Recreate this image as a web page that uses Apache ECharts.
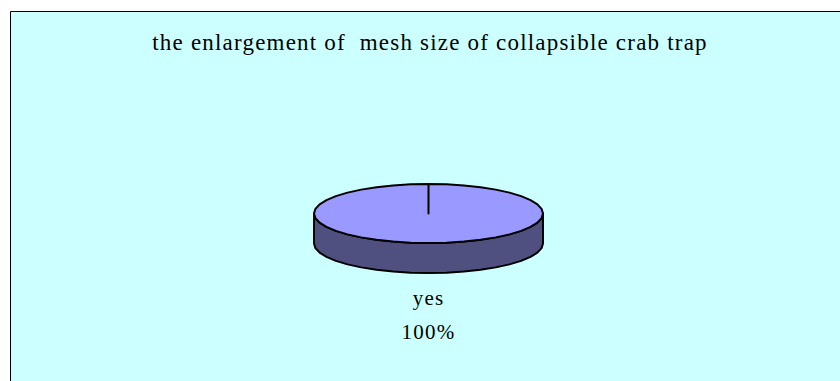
<!DOCTYPE html>
<html>
<head>
<meta charset="utf-8">
<script src="https://cdn.jsdelivr.net/npm/echarts@6/dist/echarts.min.js"></script>
<style>
  html, body { margin: 0; padding: 0; background: #ffffff; }
  #chart { width: 840px; height: 381px; letter-spacing: 1.2px; }
  #chart text { white-space: pre; }
</style>
</head>
<body>
<div id="chart"></div>
<script>
// Chart content
const chartTitle = 'the enlargement of  mesh size of collapsible crab trap';
const categories = ['yes'];
const values = [100];
const topColors = ['#9999FF'];
const sideColors = ['#4F4F80'];

// Layout of the tilted pie (pixels)
const pie = { cx: 428.5, cy: 213.5, rx: 114.5, ry: 29.5, depth: 30, segments: 40 };
const labelGap = 8;
const serif = '"Liberation Serif", "Times New Roman", serif';

const total = values.reduce((a, b) => a + b, 0);
const startShares = values.map((v, i) => values.slice(0, i).reduce((a, b) => a + b, 0));

// Point on the ellipse; angle runs clockwise from 12 o'clock
function rim(theta, dy) {
  return [pie.cx + pie.rx * Math.sin(theta), pie.cy - pie.ry * Math.cos(theta) + (dy || 0)];
}

function arcPoints(a0, a1, dy) {
  const pts = [];
  const steps = Math.max(1, Math.ceil(Math.abs(a1 - a0) / (2 * Math.PI) * pie.segments));
  for (let k = 0; k <= steps; k++) {
    pts.push(rim(a0 + (a1 - a0) * k / steps, dy));
  }
  return pts;
}

function renderSlice(params, api) {
  const i = params.dataIndex;
  const v = api.value(0);
  const a0 = startShares[i] / total * Math.PI * 2;
  const a1 = a0 + v / total * Math.PI * 2;
  const children = [];

  // Side wall: the part of the slice facing the viewer (lower half of the ellipse)
  const f0 = Math.max(a0, Math.PI / 2);
  const f1 = Math.min(a1, Math.PI * 3 / 2);
  if (f1 > f0) {
    const upper = arcPoints(f0, f1, 0);
    const lower = arcPoints(f1, f0, pie.depth);
    children.push({
      type: 'polygon',
      shape: { points: upper.concat(lower) },
      style: { fill: sideColors[i % sideColors.length], stroke: '#000000', lineWidth: 2, lineJoin: 'round' }
    });
  }

  // Top face of the slice
  const top = [[pie.cx, pie.cy]].concat(arcPoints(a0, a1, 0));
  children.push({
    type: 'polygon',
    shape: { points: top },
    style: { fill: topColors[i % topColors.length], stroke: '#000000', lineWidth: 2, lineJoin: 'round' }
  });

  // Category and percentage label outside the slice
  const mid = (a0 + a1) / 2;
  const lx = pie.cx + (pie.rx + labelGap) * Math.sin(mid);
  const ly = pie.cy - (pie.ry + labelGap) * Math.cos(mid) + (Math.cos(mid) < 0 ? pie.depth : 0);
  const pct = Math.round(v / total * 100) + '%';
  children.push({
    type: 'text',
    x: lx,
    y: ly,
    style: {
      text: categories[i] + '\n' + pct,
      fill: '#000000',
      font: '21px ' + serif,
      lineHeight: 34,
      align: 'center',
      verticalAlign: Math.cos(mid) < 0 ? 'top' : 'bottom'
    }
  });

  return { type: 'group', children: children };
}

const chart = echarts.init(document.getElementById('chart'), null, { renderer: 'svg' });
chart.setOption({
  animation: false,
  backgroundColor: '#ffffff',
  title: {
    text: chartTitle,
    left: 430,
    top: 30,
    textAlign: 'center',
    padding: 0,
    textStyle: { fontFamily: serif, fontSize: 23, fontWeight: 'normal', color: '#000000', lineHeight: 25 }
  },
  graphic: [{
    type: 'rect',
    z: 0,
    silent: true,
    shape: { x: 10.5, y: 11.5, width: 900, height: 420 },
    style: { fill: '#CCFFFF', stroke: '#000000', lineWidth: 1 }
  }],
  series: [{
    type: 'custom',
    coordinateSystem: 'none',
    renderItem: renderSlice,
    data: values.map((v, i) => ({ name: categories[i], value: v }))
  }]
});
</script>
</body>
</html>
